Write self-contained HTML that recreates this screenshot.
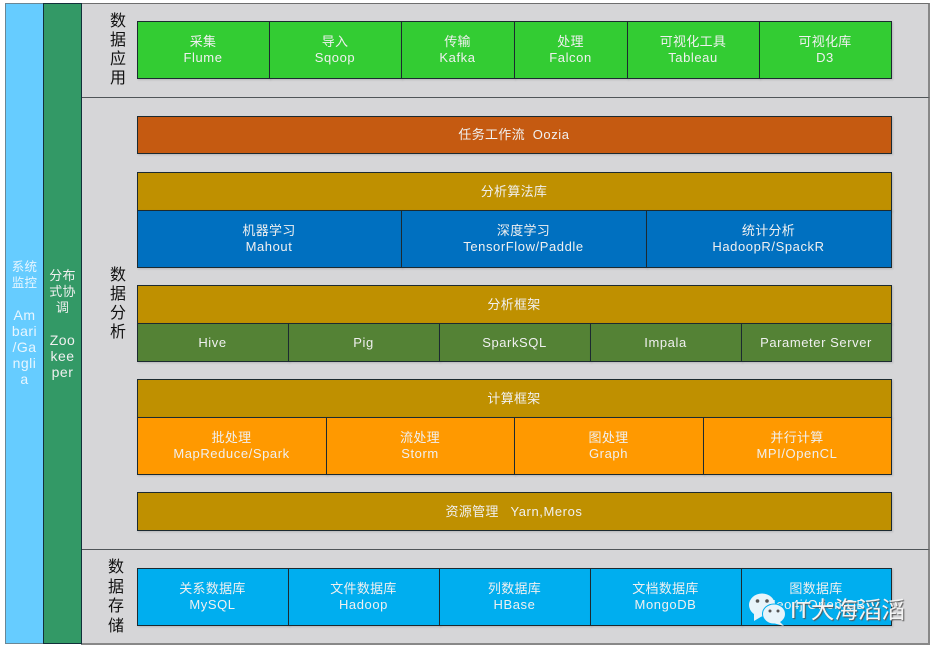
<!DOCTYPE html>
<html><head><meta charset="utf-8">
<style>
html,body{margin:0;padding:0;background:#fff;width:935px;height:652px;overflow:hidden}
body{position:relative;font-family:"Liberation Sans","Noto Sans CJK SC",sans-serif}
div{position:absolute;box-sizing:border-box}
.b{border:1px solid #1c2a30;color:#f0f0f0;font-size:13px;line-height:16px;display:flex;align-items:center;justify-content:center;text-align:center;letter-spacing:.3px;padding-right:1px;box-shadow:1px 1px 2px rgba(0,0,0,.15)}
.b>span{display:block}
.l{letter-spacing:.58px}
.p{background:#d6d6d8;border:1px solid #555c60}
.t{color:#111;font-size:16px;line-height:19px;text-align:center;width:20px}
.s{box-shadow:none;font-size:12.5px;letter-spacing:.3px;padding:0 3px}
.s .l{display:block;font-size:14px;letter-spacing:.5px;line-height:16px}
.g{background:#33cc33}.o{background:#c55a11}.y{background:#bf9000}.u{background:#0070c0}.h{background:#548235}.m{background:#ff9900}.c{background:#00aeef}
</style></head><body>
<div class="p" style="left:81px;top:3px;width:849px;height:95px;border-color:#6e6e6e;border-right:2px solid #888"></div>
<div class="p" style="left:81px;top:97px;width:849px;height:453px;border-color:#505558;border-right:2px solid #888"></div>
<div class="p" style="left:81px;top:549px;width:849px;height:96px;border-color:#505558;border-right:2px solid #888;border-bottom:2px solid #888"></div>
<div class="b s" style="left:5px;top:3px;width:39px;height:641px;background:#66ccff;border-color:#6a8796;border-right-color:#17384a;color:#e8f6ff;padding-bottom:2px"><span>系统监控<br><br><span class="l">Am<br>bari<br>/Ga<br>ngli<br>a</span></span></div>
<div class="b s" style="left:43px;top:3px;width:39px;height:641px;background:#339966;border-color:#12303a;font-size:13px"><span>分布式协调<br><br><span class="l">Zoo<br>kee<br>per</span></span></div>
<div class="t" style="left:108px;top:12px">数<br>据<br>应<br>用</div>
<div class="t" style="left:108px;top:266px">数<br>据<br>分<br>析</div>
<div class="t" style="left:106px;top:558px;line-height:19.6px">数<br>据<br>存<br>储</div>

<div class="b g" style="left:137px;top:21px;width:133px;height:58px"><span>采集<br><span class="l">Flume</span></span></div>
<div class="b g" style="left:269px;top:21px;width:133px;height:58px"><span>导入<br><span class="l">Sqoop</span></span></div>
<div class="b g" style="left:401px;top:21px;width:114px;height:58px"><span>传输<br><span class="l">Kafka</span></span></div>
<div class="b g" style="left:514px;top:21px;width:114px;height:58px"><span>处理<br><span class="l">Falcon</span></span></div>
<div class="b g" style="left:627px;top:21px;width:133px;height:58px"><span>可视化工具<br><span class="l">Tableau</span></span></div>
<div class="b g" style="left:759px;top:21px;width:133px;height:58px"><span>可视化库<br><span class="l">D3</span></span></div>

<div class="b o" style="left:137px;top:116px;width:755px;height:38px"><span>任务工作流&nbsp; <span class="l">Oozia</span></span></div>

<div class="b y" style="left:137px;top:172px;width:755px;height:39px"><span>分析算法库</span></div>
<div class="b u" style="left:137px;top:210px;width:265px;height:58px"><span>机器学习<br><span class="l">Mahout</span></span></div>
<div class="b u" style="left:401px;top:210px;width:246px;height:58px"><span>深度学习<br><span class="l">TensorFlow/Paddle</span></span></div>
<div class="b u" style="left:646px;top:210px;width:246px;height:58px"><span>统计分析<br><span class="l">HadoopR/SpackR</span></span></div>

<div class="b y" style="left:137px;top:285px;width:755px;height:39px"><span>分析框架</span></div>
<div class="b h" style="left:137px;top:323px;width:152px;height:39px"><span class="l">Hive</span></div>
<div class="b h" style="left:288px;top:323px;width:152px;height:39px"><span class="l">Pig</span></div>
<div class="b h" style="left:439px;top:323px;width:152px;height:39px"><span class="l">SparkSQL</span></div>
<div class="b h" style="left:590px;top:323px;width:152px;height:39px"><span class="l">Impala</span></div>
<div class="b h" style="left:741px;top:323px;width:151px;height:39px"><span class="l">Parameter Server</span></div>

<div class="b y" style="left:137px;top:379px;width:755px;height:39px"><span>计算框架</span></div>
<div class="b m" style="left:137px;top:417px;width:190px;height:58px"><span>批处理<br><span class="l">MapReduce/Spark</span></span></div>
<div class="b m" style="left:326px;top:417px;width:189px;height:58px"><span>流处理<br><span class="l">Storm</span></span></div>
<div class="b m" style="left:514px;top:417px;width:190px;height:58px"><span>图处理<br><span class="l">Graph</span></span></div>
<div class="b m" style="left:703px;top:417px;width:189px;height:58px"><span>并行计算<br><span class="l">MPI/OpenCL</span></span></div>

<div class="b y" style="left:137px;top:492px;width:755px;height:39px"><span>资源管理&nbsp;&nbsp; <span class="l">Yarn,Meros</span></span></div>

<div class="b c" style="left:137px;top:568px;width:152px;height:58px"><span>关系数据库<br><span class="l">MySQL</span></span></div>
<div class="b c" style="left:288px;top:568px;width:152px;height:58px"><span>文件数据库<br><span class="l">Hadoop</span></span></div>
<div class="b c" style="left:439px;top:568px;width:152px;height:58px"><span>列数据库<br><span class="l">HBase</span></span></div>
<div class="b c" style="left:590px;top:568px;width:152px;height:58px"><span>文档数据库<br><span class="l">MongoDB</span></span></div>
<div class="b c" style="left:741px;top:568px;width:151px;height:58px"><span>图数据库<br><span class="l">Neo4j/OrientDB</span></span></div>

<svg style="position:absolute;left:745px;top:590px" width="50" height="38" viewBox="0 0 50 38">
<ellipse cx="17" cy="15" rx="13" ry="11.5" fill="#e8f4fa"/>
<path d="M9 22 L9 31 L19 25Z" fill="#e8f4fa"/>
<circle cx="12.500" cy="11" r="1.800" fill="#555"/><circle cx="22" cy="11" r="1.800" fill="#555"/>
<ellipse cx="29" cy="24" rx="11.500" ry="10" fill="#e8f4fa" stroke="#00aeef" stroke-width="1"/>
<path d="M34 31 L39 36 L28 33Z" fill="#e8f4fa"/>
<circle cx="25" cy="21" r="1.500" fill="#555"/><circle cx="33" cy="21" r="1.500" fill="#555"/>
</svg>
<div style="left:790px;top:596px;width:125px;height:28px;font-size:23.5px;line-height:28px;color:#f4f4f4;white-space:nowrap;text-shadow:1px 1px 1px #555">IT大海滔滔</div>
</body></html>
